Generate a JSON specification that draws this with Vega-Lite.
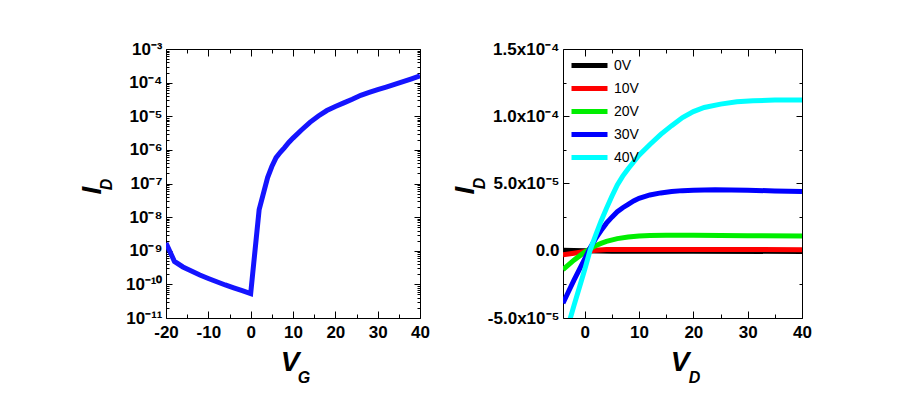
{
  "$schema": "https://vega.github.io/schema/vega-lite/v6.json",
  "background": "white",
  "padding": {"left": 78, "top": 40, "right": 5, "bottom": 5},
  "config": {
    "font": "Liberation Sans",
    "view": {"stroke": null},
    "axis": {
      "grid": false,
      "domainColor": "black",
      "domainWidth": 1,
      "tickColor": "black",
      "tickWidth": 1,
      "labelFont": "Liberation Sans",
      "labelFontWeight": "bold",
      "labelFontSize": 17,
      "labelColor": "black",
      "titleFont": "Liberation Sans",
      "titleFontWeight": "bold",
      "titleFontStyle": "italic",
      "titleColor": "black",
      "labelOverlap": false,
      "labelFlush": false
    }
  },
  "datasets": {
    "transfer": [
      {"VG": -20, "ID": 1.7e-9},
      {"VG": -18, "ID": 4.8e-10},
      {"VG": -16, "ID": 3.3e-10},
      {"VG": -14, "ID": 2.5e-10},
      {"VG": -12, "ID": 1.9e-10},
      {"VG": -10, "ID": 1.5e-10},
      {"VG": -8, "ID": 1.2e-10},
      {"VG": -6, "ID": 9.6e-11},
      {"VG": -4, "ID": 7.9e-11},
      {"VG": -2, "ID": 6.5e-11},
      {"VG": 0, "ID": 5.3e-11},
      {"VG": 2, "ID": 1.66e-8},
      {"VG": 4, "ID": 1.5e-7},
      {"VG": 5, "ID": 3.2e-7},
      {"VG": 6, "ID": 5.9e-7},
      {"VG": 7, "ID": 8.5e-7},
      {"VG": 8, "ID": 1.17e-6},
      {"VG": 9, "ID": 1.66e-6},
      {"VG": 10, "ID": 2.24e-6},
      {"VG": 12, "ID": 3.9e-6},
      {"VG": 14, "ID": 6.6e-6},
      {"VG": 16, "ID": 1.02e-5},
      {"VG": 18, "ID": 1.48e-5},
      {"VG": 20, "ID": 1.95e-5},
      {"VG": 22, "ID": 2.5e-5},
      {"VG": 24, "ID": 3.2e-5},
      {"VG": 26, "ID": 4.2e-5},
      {"VG": 28, "ID": 5.1e-5},
      {"VG": 30, "ID": 6.2e-5},
      {"VG": 32, "ID": 7.4e-5},
      {"VG": 34, "ID": 8.9e-5},
      {"VG": 36, "ID": 1.07e-4},
      {"VG": 38, "ID": 1.3e-4},
      {"VG": 40, "ID": 1.58e-4}
    ],
    "output": [
      {"gate": "0V", "VD": -4, "ID": 3e-7},
      {"gate": "0V", "VD": 0, "ID": 0},
      {"gate": "0V", "VD": 5, "ID": -3e-7},
      {"gate": "0V", "VD": 20, "ID": -4e-7},
      {"gate": "0V", "VD": 40, "ID": -5e-7},
      {"gate": "10V", "VD": -4, "ID": -3e-6},
      {"gate": "10V", "VD": -2, "ID": -1.8e-6},
      {"gate": "10V", "VD": 0, "ID": -5e-7},
      {"gate": "10V", "VD": 2, "ID": 4e-7},
      {"gate": "10V", "VD": 4, "ID": 9e-7},
      {"gate": "10V", "VD": 6, "ID": 1.0e-6},
      {"gate": "10V", "VD": 10, "ID": 1.0e-6},
      {"gate": "10V", "VD": 20, "ID": 1.0e-6},
      {"gate": "10V", "VD": 30, "ID": 9e-7},
      {"gate": "10V", "VD": 40, "ID": 8e-7},
      {"gate": "20V", "VD": -4, "ID": -1.4e-5},
      {"gate": "20V", "VD": -3, "ID": -1.05e-5},
      {"gate": "20V", "VD": -2, "ID": -7e-6},
      {"gate": "20V", "VD": -1, "ID": -4e-6},
      {"gate": "20V", "VD": 0, "ID": -1e-6},
      {"gate": "20V", "VD": 1, "ID": 1.5e-6},
      {"gate": "20V", "VD": 2, "ID": 3.8e-6},
      {"gate": "20V", "VD": 3, "ID": 5.5e-6},
      {"gate": "20V", "VD": 4, "ID": 7e-6},
      {"gate": "20V", "VD": 6, "ID": 9e-6},
      {"gate": "20V", "VD": 8, "ID": 1.02e-5},
      {"gate": "20V", "VD": 10, "ID": 1.1e-5},
      {"gate": "20V", "VD": 12, "ID": 1.14e-5},
      {"gate": "20V", "VD": 15, "ID": 1.16e-5},
      {"gate": "20V", "VD": 20, "ID": 1.15e-5},
      {"gate": "20V", "VD": 30, "ID": 1.12e-5},
      {"gate": "20V", "VD": 40, "ID": 1.1e-5},
      {"gate": "30V", "VD": -4, "ID": -3.9e-5},
      {"gate": "30V", "VD": -3, "ID": -3.05e-5},
      {"gate": "30V", "VD": -2, "ID": -2.2e-5},
      {"gate": "30V", "VD": -1, "ID": -1.4e-5},
      {"gate": "30V", "VD": 0, "ID": -6e-6},
      {"gate": "30V", "VD": 1, "ID": 2e-6},
      {"gate": "30V", "VD": 2, "ID": 9e-6},
      {"gate": "30V", "VD": 3, "ID": 1.5e-5},
      {"gate": "30V", "VD": 4, "ID": 2.05e-5},
      {"gate": "30V", "VD": 5, "ID": 2.5e-5},
      {"gate": "30V", "VD": 6, "ID": 2.9e-5},
      {"gate": "30V", "VD": 7, "ID": 3.2e-5},
      {"gate": "30V", "VD": 8, "ID": 3.45e-5},
      {"gate": "30V", "VD": 9, "ID": 3.7e-5},
      {"gate": "30V", "VD": 10, "ID": 3.9e-5},
      {"gate": "30V", "VD": 12, "ID": 4.15e-5},
      {"gate": "30V", "VD": 14, "ID": 4.3e-5},
      {"gate": "30V", "VD": 16, "ID": 4.4e-5},
      {"gate": "30V", "VD": 18, "ID": 4.47e-5},
      {"gate": "30V", "VD": 20, "ID": 4.5e-5},
      {"gate": "30V", "VD": 24, "ID": 4.53e-5},
      {"gate": "30V", "VD": 30, "ID": 4.5e-5},
      {"gate": "30V", "VD": 35, "ID": 4.45e-5},
      {"gate": "30V", "VD": 40, "ID": 4.4e-5},
      {"gate": "40V", "VD": -4, "ID": -6.8e-5},
      {"gate": "40V", "VD": -3, "ID": -5.5e-5},
      {"gate": "40V", "VD": -2, "ID": -4.1e-5},
      {"gate": "40V", "VD": -1, "ID": -2.75e-5},
      {"gate": "40V", "VD": 0, "ID": -1.4e-5},
      {"gate": "40V", "VD": 1, "ID": 5e-7},
      {"gate": "40V", "VD": 2, "ID": 1.15e-5},
      {"gate": "40V", "VD": 3, "ID": 2.2e-5},
      {"gate": "40V", "VD": 4, "ID": 3.15e-5},
      {"gate": "40V", "VD": 5, "ID": 4.05e-5},
      {"gate": "40V", "VD": 6, "ID": 4.9e-5},
      {"gate": "40V", "VD": 7, "ID": 5.55e-5},
      {"gate": "40V", "VD": 8, "ID": 6.1e-5},
      {"gate": "40V", "VD": 9, "ID": 6.6e-5},
      {"gate": "40V", "VD": 10, "ID": 7.1e-5},
      {"gate": "40V", "VD": 12, "ID": 7.9e-5},
      {"gate": "40V", "VD": 14, "ID": 8.65e-5},
      {"gate": "40V", "VD": 16, "ID": 9.3e-5},
      {"gate": "40V", "VD": 18, "ID": 9.9e-5},
      {"gate": "40V", "VD": 20, "ID": 1.035e-4},
      {"gate": "40V", "VD": 22, "ID": 1.065e-4},
      {"gate": "40V", "VD": 25, "ID": 1.09e-4},
      {"gate": "40V", "VD": 28, "ID": 1.108e-4},
      {"gate": "40V", "VD": 31, "ID": 1.115e-4},
      {"gate": "40V", "VD": 35, "ID": 1.12e-4},
      {"gate": "40V", "VD": 40, "ID": 1.12e-4}
    ]
  },
  "hconcat": [
    {
      "width": 254,
      "height": 269,
      "data": {"name": "transfer"},
      "layer": [
        {
          "mark": {"type": "line", "color": "#1414ff", "strokeWidth": 5, "clip": true},
          "encoding": {
            "x": {
              "field": "VG", "type": "quantitative",
              "scale": {"domain": [-20, 40], "nice": false, "zero": false},
              "axis": {
                "orient": "bottom",
                "values": [-20, -15, -10, -5, 0, 5, 10, 15, 20, 25, 30, 35, 40],
                "labelExpr": "datum.value % 10 == 0 ? '' + datum.value : ''",
                "tickSize": {"condition": {"test": "datum.value % 10 == 0", "value": -7}, "value": -4},
                "labelPadding": 13,
                "title": "V",
                "titleFontSize": 28,
                "titleAngle": 0,
                "titleAlign": "center",
                "titleBaseline": "middle",
                "titleX": 123.5,
                "titleY": 44.5
              }
            },
            "y": {
              "field": "ID", "type": "quantitative",
              "scale": {"type": "log", "domain": [1e-11, 1e-3], "nice": false},
              "axis": {
                "orient": "left",
                "values": [1e-11, 2e-11, 3e-11, 4e-11, 5e-11, 6e-11, 7e-11, 8e-11, 9e-11, 1e-10, 2e-10, 3e-10, 4e-10, 5e-10, 6e-10, 7e-10, 8e-10, 9e-10, 1e-9, 2e-9, 3e-9, 4e-9, 5e-9, 6e-9, 7e-9, 8e-9, 9e-9, 1e-8, 2e-8, 3e-8, 4e-8, 5e-8, 6e-8, 7e-8, 8e-8, 9e-8, 1e-7, 2e-7, 3e-7, 4e-7, 5e-7, 6e-7, 7e-7, 8e-7, 9e-7, 1e-6, 2e-6, 3e-6, 4e-6, 5e-6, 6e-6, 7e-6, 8e-6, 9e-6, 1e-5, 2e-5, 3e-5, 4e-5, 5e-5, 6e-5, 7e-5, 8e-5, 9e-5, 1e-4, 2e-4, 3e-4, 4e-4, 5e-4, 6e-4, 7e-4, 8e-4, 9e-4, 1e-3],
                "labelExpr": "abs(log(datum.value)/LN10 - round(log(datum.value)/LN10)) < 0.01 ? '10⁻' + (-round(log(datum.value)/LN10) >= 10 ? '¹' + substring('⁰¹²³⁴⁵⁶⁷⁸⁹', -round(log(datum.value)/LN10) - 10, -round(log(datum.value)/LN10) - 9) : substring('⁰¹²³⁴⁵⁶⁷⁸⁹', -round(log(datum.value)/LN10), -round(log(datum.value)/LN10) + 1)) : ''",
                "tickSize": {"condition": {"test": "abs(log(datum.value)/LN10 - round(log(datum.value)/LN10)) < 0.01", "value": -6}, "value": -3},
                "labelPadding": 10,
                "title": "I",
                "titleFontSize": 28,
                "titleAngle": 270,
                "titleAlign": "center",
                "titleBaseline": "middle",
                "titleX": -74,
                "titleY": 141
              }
            }
          }
        },
        {
          "mark": {"type": "line", "opacity": 0},
          "encoding": {
            "x": {
              "field": "VG", "type": "quantitative",
              "scale": {"domain": [-20, 40], "nice": false, "zero": false},
              "axis": {
                "orient": "top",
                "values": [-20, -15, -10, -5, 0, 5, 10, 15, 20, 25, 30, 35, 40],
                "labels": false,
                "tickSize": {"condition": {"test": "datum.value % 10 == 0", "value": -7}, "value": -4},
                "title": "G",
                "titleFontSize": 16,
                "titleAngle": 0,
                "titleAlign": "center",
                "titleBaseline": "middle",
                "titleX": 137.5,
                "titleY": 328.5
              }
            },
            "y": {
              "field": "ID", "type": "quantitative",
              "scale": {"type": "log", "domain": [1e-11, 1e-3], "nice": false},
              "axis": {
                "orient": "right",
                "values": [1e-11, 2e-11, 3e-11, 4e-11, 5e-11, 6e-11, 7e-11, 8e-11, 9e-11, 1e-10, 2e-10, 3e-10, 4e-10, 5e-10, 6e-10, 7e-10, 8e-10, 9e-10, 1e-9, 2e-9, 3e-9, 4e-9, 5e-9, 6e-9, 7e-9, 8e-9, 9e-9, 1e-8, 2e-8, 3e-8, 4e-8, 5e-8, 6e-8, 7e-8, 8e-8, 9e-8, 1e-7, 2e-7, 3e-7, 4e-7, 5e-7, 6e-7, 7e-7, 8e-7, 9e-7, 1e-6, 2e-6, 3e-6, 4e-6, 5e-6, 6e-6, 7e-6, 8e-6, 9e-6, 1e-5, 2e-5, 3e-5, 4e-5, 5e-5, 6e-5, 7e-5, 8e-5, 9e-5, 1e-4, 2e-4, 3e-4, 4e-4, 5e-4, 6e-4, 7e-4, 8e-4, 9e-4, 1e-3],
                "labels": false,
                "tickSize": {"condition": {"test": "abs(log(datum.value)/LN10 - round(log(datum.value)/LN10)) < 0.01", "value": -6}, "value": -3},
                "title": "D",
                "titleFontSize": 16,
                "titleAngle": 270,
                "titleAlign": "center",
                "titleBaseline": "middle",
                "titleX": -314,
                "titleY": 135
              }
            }
          }
        }
      ],
      "resolve": {"axis": {"x": "independent", "y": "independent"}}
    },
    {
      "width": 239,
      "height": 269,
      "data": {"name": "output"},
      "layer": [
        {
          "mark": {"type": "line", "strokeWidth": 5, "clip": true},
          "encoding": {
            "x": {
              "field": "VD", "type": "quantitative",
              "scale": {"domain": [-4, 40], "nice": false, "zero": false},
              "axis": {
                "orient": "bottom",
                "values": [0, 5, 10, 15, 20, 25, 30, 35, 40],
                "labelExpr": "datum.value % 10 == 0 ? '' + datum.value : ''",
                "tickSize": {"condition": {"test": "datum.value % 10 == 0", "value": -7}, "value": -4},
                "labelPadding": 13,
                "title": "V",
                "titleFontSize": 28,
                "titleAngle": 0,
                "titleAlign": "center",
                "titleBaseline": "middle",
                "titleX": 116.5,
                "titleY": 44.5
              }
            },
            "y": {
              "field": "ID", "type": "quantitative",
              "scale": {"domain": [-5e-5, 1.5e-4], "nice": false, "zero": false},
              "axis": {
                "orient": "left",
                "values": [-5e-5, -2.5e-5, 0, 2.5e-5, 5e-5, 7.5e-5, 1e-4, 1.25e-4, 1.5e-4],
                "labelExpr": "abs(datum.value-1.5e-4)<1e-9 ? '1.5x10⁻⁴' : abs(datum.value-1e-4)<1e-9 ? '1.0x10⁻⁴' : abs(datum.value-5e-5)<1e-9 ? '5.0x10⁻⁵' : abs(datum.value)<1e-9 ? '0.0' : abs(datum.value+5e-5)<1e-9 ? '-5.0x10⁻⁵' : ''",
                "tickSize": {"condition": {"test": "abs(datum.value/5e-5 - round(datum.value/5e-5)) < 0.01", "value": -6}, "value": -3},
                "labelPadding": 10,
                "title": "I",
                "titleFontSize": 28,
                "titleAngle": 270,
                "titleAlign": "center",
                "titleBaseline": "middle",
                "titleX": -98,
                "titleY": 141
              }
            },
            "color": {
              "field": "gate", "type": "nominal",
              "scale": {"domain": ["0V", "10V", "20V", "30V", "40V"], "range": ["#000000", "#ff0000", "#00ee00", "#0000ff", "#00ffff"]},
              "legend": {
                "title": null,
                "orient": "none",
                "legendX": 415,
                "legendY": 8,
                "padding": 0,
                "symbolType": "M-3,0H3",
                "symbolSize": 144,
                "symbolStrokeWidth": 5,
                "labelFontSize": 14,
                "labelFont": "Liberation Sans",
                "labelColor": "black",
                "labelOffset": 16,
                "rowPadding": 2
              }
            }
          }
        },
        {
          "mark": {"type": "line", "opacity": 0},
          "encoding": {
            "x": {
              "field": "VD", "type": "quantitative",
              "scale": {"domain": [-4, 40], "nice": false, "zero": false},
              "axis": {
                "orient": "top",
                "values": [0, 5, 10, 15, 20, 25, 30, 35, 40],
                "labels": false,
                "tickSize": {"condition": {"test": "datum.value % 10 == 0", "value": -7}, "value": -4},
                "title": "D",
                "titleFontSize": 16,
                "titleAngle": 0,
                "titleAlign": "center",
                "titleBaseline": "middle",
                "titleX": 131,
                "titleY": 328
              }
            },
            "y": {
              "field": "ID", "type": "quantitative",
              "scale": {"domain": [-5e-5, 1.5e-4], "nice": false, "zero": false},
              "axis": {
                "orient": "right",
                "values": [-5e-5, -2.5e-5, 0, 2.5e-5, 5e-5, 7.5e-5, 1e-4, 1.25e-4, 1.5e-4],
                "labels": false,
                "tickSize": {"condition": {"test": "abs(datum.value/5e-5 - round(datum.value/5e-5)) < 0.01", "value": -6}, "value": -3},
                "title": "D",
                "titleFontSize": 16,
                "titleAngle": 270,
                "titleAlign": "center",
                "titleBaseline": "middle",
                "titleX": -323,
                "titleY": 134
              }
            }
          }
        }
      ],
      "resolve": {"axis": {"x": "independent", "y": "independent"}}
    }
  ],
  "spacing": 143,
  "bounds": "flush"
}
